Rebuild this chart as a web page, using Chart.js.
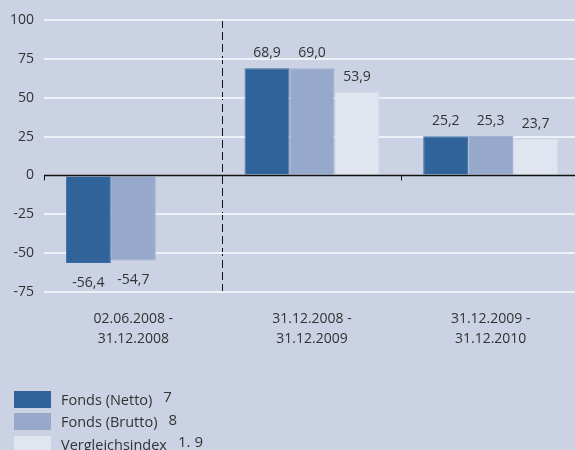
<!DOCTYPE html>
<html>
<head>
<meta charset="utf-8">
<script src="https://cdn.jsdelivr.net/npm/chart.js@4/dist/chart.umd.min.js"></script>
<style>
  html, body { margin: 0; padding: 0; overflow: hidden; background: #cbd2e3; }
  #wrap { position: relative; width: 580px; height: 450px; }
  #legend { position: absolute; left: 14px; top: 388px; font-family: 'Open Sans', sans-serif; font-size: 14.5px; color: #333; }
  .row { display: flex; align-items: center; height: 22.5px; }
  .sw { width: 37px; height: 17px; margin-right: 10px; }
  .row sup { font-size: 15px; margin-left: 11px; position: relative; top: -3px; }
</style>
</head>
<body>
<div id="wrap">
  <canvas id="perfChart" width="580" height="450"></canvas>
  <div id="legend"></div>
</div>
<script>
// Zeiträume (x-axis categories, two lines each)
const periods = [
  ['02.06.2008 -', '31.12.2008'],
  ['31.12.2008 -', '31.12.2009'],
  ['31.12.2009 -', '31.12.2010'],
];

// Wertentwicklung in %
const fondsNetto = [-56.4, 68.9, 25.2];
const fondsBrutto = [-54.7, 69.0, 25.3];
const vergleichsindex = [null, 53.9, 23.7];

const seriesNames = ['Fonds (Netto)', 'Fonds (Brutto)', 'Vergleichsindex'];
const seriesNotes = ['7', '8', '1. 9'];
const seriesColors = ['#2f6399', '#97a9ca', '#e1e5f0'];

const yTicks = [-75, -50, -25, 0, 25, 50, 75, 100];

const FONT = "'Open Sans', sans-serif";
const TEXT = '#333';

const fmt = (v) => v.toFixed(1).replace('.', ',');

// value labels above / below each bar
const valueLabels = {
  id: 'valueLabels',
  afterDatasetsDraw(chart) {
    const ctx = chart.ctx;
    ctx.save();
    ctx.font = '14px ' + FONT;
    ctx.fillStyle = TEXT;
    ctx.textAlign = 'center';
    ctx.textBaseline = 'middle';
    chart.data.datasets.forEach((ds, di) => {
      chart.getDatasetMeta(di).data.forEach((bar, i) => {
        const v = ds.data[i];
        if (v === null || v === undefined) return;
        const y = v >= 0 ? bar.y - 15 : bar.y + 20;
        ctx.fillText(fmt(v), bar.x, y);
      });
    });
    ctx.restore();
  },
};

// zero line with small category ticks
const zeroAxis = {
  id: 'zeroAxis',
  afterDatasetsDraw(chart) {
    const { ctx, chartArea, scales } = chart;
    const y0 = scales.y.getPixelForValue(0);
    const x = scales.x;
    const half = (x.getPixelForTick(1) - x.getPixelForTick(0)) / 2;
    ctx.save();
    ctx.strokeStyle = '#111';
    ctx.lineWidth = 1.5;
    ctx.beginPath();
    ctx.moveTo(chartArea.left, y0);
    ctx.lineTo(chartArea.right, y0);
    ctx.stroke();
    ctx.lineWidth = 1;
    [0, 2].forEach((i) => {
      const bx = Math.round(x.getPixelForTick(i) - half) + 0.5;
      ctx.beginPath();
      ctx.moveTo(bx, y0);
      ctx.lineTo(bx, y0 + 5);
      ctx.stroke();
    });
    ctx.restore();
  },
};

const datasets = [fondsNetto, fondsBrutto, vergleichsindex].map((data, i) => ({
  label: seriesNames[i],
  data,
  backgroundColor: seriesColors[i],
  borderColor: ['#3a6da3', '#a0b0cf', '#d6dcea'][i],
  borderWidth: 1,
  barPercentage: 1,
  categoryPercentage: 0.755,
}));

new Chart(document.getElementById('perfChart'), {
  type: 'bar',
  data: { labels: periods, datasets },
  options: {
    responsive: false,
    animation: false,
    layout: { padding: { top: 20, right: 0, bottom: 0, left: 0 } },
    plugins: { legend: { display: false }, tooltip: { enabled: false } },
    scales: {
      x: {
        afterFit: (s) => { s.height = 158; },
        grid: {
          offset: true,
          drawTicks: false,
          color: (c) => (c.index === 1 ? '#111' : 'rgba(0,0,0,0)'),
          lineWidth: 1,
        },
        border: { display: false, dash: [8, 4] },
        ticks: { color: TEXT, font: { family: FONT, size: 14, lineHeight: 1.45 }, padding: 17 },
      },
      y: {
        min: -75,
        max: 100,
        afterFit: (s) => { s.width = 44; },
        afterBuildTicks: (s) => { s.ticks = yTicks.map((v) => ({ value: v })); },
        grid: {
          drawTicks: false,
          color: (c) => (c.tick && c.tick.value === 0 ? 'rgba(0,0,0,0)' : '#eef1f7'),
          lineWidth: 2,
        },
        border: { display: false },
        ticks: { color: TEXT, font: { family: FONT, size: 14 }, padding: 10 },
      },
    },
  },
  plugins: [valueLabels, zeroAxis],
});

// legend with footnote markers
const legend = document.getElementById('legend');
seriesNames.forEach((name, i) => {
  const row = document.createElement('div');
  row.className = 'row';
  row.innerHTML = `<span class="sw" style="background:${seriesColors[i]}"></span><span>${name}</span><sup>${seriesNotes[i]}</sup>`;
  legend.appendChild(row);
});
</script>
</body>
</html>
